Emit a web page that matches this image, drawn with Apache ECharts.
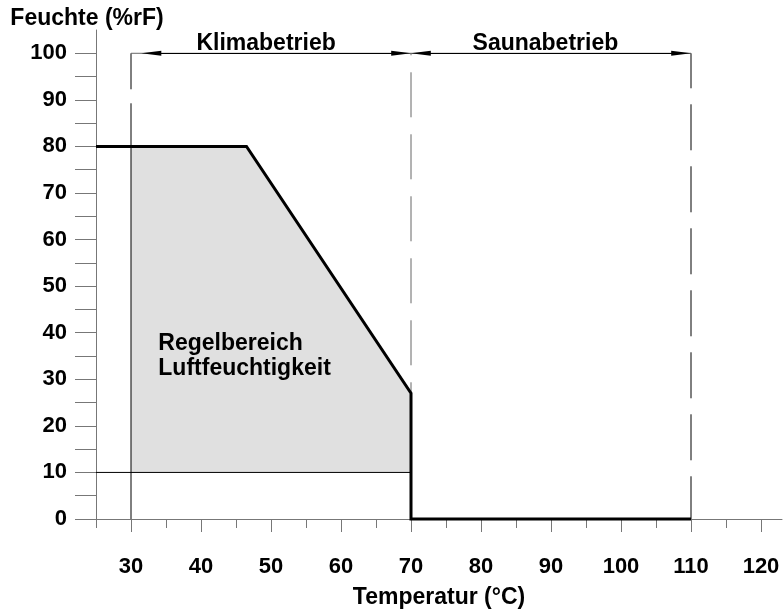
<!DOCTYPE html>
<html>
<head>
<meta charset="utf-8">
<script src="https://cdn.jsdelivr.net/npm/echarts@6/dist/echarts.min.js"></script>
<style>
  html, body { margin: 0; padding: 0; background: #fff; }
  #chart { width: 783px; height: 611px; }
</style>
</head>
<body>
<div id="chart"></div>
<script>
// Achsen
const xMajor = [30, 40, 50, 60, 70, 80, 90, 100, 110, 120];
const xMinor = [25, 35, 45, 55, 65, 75, 85, 95, 105, 115];
const yLabels = [0, 10, 20, 30, 40, 50, 60, 70, 80, 90, 100];
const yTicks = [0, 5, 10, 15, 20, 25, 30, 35, 40, 45, 50, 55, 60, 65, 70, 75, 80, 85, 90, 95, 100];

// Grenzkurve Feuchte
const limitCurve = [[25, 80], [46.5, 80], [70, 27], [70, 0], [110, 0]];
// Regelbereich (graue Fläche)
const controlArea = [[30, 10], [30, 80], [46.5, 80], [70, 27], [70, 10]];
// Hilfslinien
const lowerLimit = [[25, 10], [70, 10]];
const startLine = [[30, 100], [30, 0]];
const splitLine = [[70, 100], [70, 27]];
const endLine = [[110, 100], [110, 0]];
const rangeLine = [[30, 100], [110, 100]];
// Pfeile der Betriebsbereiche
const klimaArrow = [[32.9, 100], [68.6, 100]];
const saunaArrow = [[71.4, 100], [108.6, 100]];
// Beschriftungen
const zoneLabels = [['Klimabetrieb', 49.3, 100], ['Saunabetrieb', 89.2, 100]];
const areaLabel = ['Regelbereich\nLuftfeuchtigkeit', 33.9, 34.9];

const font = 'Liberation Sans, Arial, sans-serif';
const chart = echarts.init(document.getElementById('chart'));

function thinLine(data, color, type, offset) {
  return {
    type: 'line',
    data: data,
    symbol: 'none',
    clip: false,
    silent: true,
    lineStyle: { color: color, width: 1, type: type || 'solid', dashOffset: offset || 0 }
  };
}

// Text über die Achsen positionieren
function textSeries(items, align, dy) {
  return {
    type: 'custom',
    silent: true,
    data: items.map(function (d) { return [d[1], d[2]]; }),
    renderItem: function (params, api) {
      const pt = api.coord([api.value(0), api.value(1)]);
      return {
        type: 'text',
        x: pt[0],
        y: pt[1] + dy,
        style: {
          text: items[params.dataIndex][0],
          fill: '#000',
          font: 'bold 23px "Liberation Sans", Arial, sans-serif',
          lineHeight: 25,
          align: align,
          verticalAlign: 'middle',
          textAlign: align,
          textVerticalAlign: 'middle'
        }
      };
    },
    z: 10
  };
}

const option = {
  animation: false,
  grid: { left: 96, right: 1, top: 30, bottom: 92, outerBoundsMode: 'none', containLabel: false },
  xAxis: [
    {
      type: 'value',
      min: 25,
      max: 123,
      name: 'Temperatur (°C)',
      nameLocation: 'middle',
      nameGap: 67,
      nameTextStyle: { fontFamily: font, fontSize: 23, fontWeight: 'bold', color: '#000' },
      axisLine: { show: true, lineStyle: { color: '#777', width: 1 } },
      axisTick: { show: true, inside: false, length: 13, customValues: xMajor, lineStyle: { color: '#777' } },
      axisLabel: { customValues: xMajor, margin: 37, fontFamily: font, fontSize: 22, fontWeight: 'bold', color: '#000' },
      splitLine: { show: false }
    },
    {
      type: 'value',
      min: 25,
      max: 123,
      position: 'bottom',
      axisLine: { show: false },
      axisTick: { show: true, length: 9, customValues: xMinor, lineStyle: { color: '#777' } },
      axisLabel: { show: false },
      splitLine: { show: false }
    }
  ],
  yAxis: {
    type: 'value',
    min: 0,
    max: 105,
    name: 'Feuchte (%rF)',
    nameLocation: 'end',
    nameGap: 0,
    nameTextStyle: { fontFamily: font, fontSize: 23, fontWeight: 'bold', color: '#000', padding: [0, 18, 0, 0] },
    axisLine: { show: true, lineStyle: { color: '#777', width: 1 } },
    axisTick: { show: true, length: 21, customValues: yTicks, lineStyle: { color: '#777' } },
    axisLabel: { customValues: yLabels, margin: 29, fontFamily: font, fontSize: 22, fontWeight: 'bold', color: '#000' },
    splitLine: { show: false }
  },
  series: [
    {
      type: 'custom',
      silent: true,
      data: [0],
      renderItem: function (params, api) {
        return {
          type: 'polygon',
          shape: { points: controlArea.map(function (p) { return api.coord(p); }) },
          style: { fill: '#e0e0e0' }
        };
      },
      z: 1
    },
    thinLine(lowerLimit, '#000'),
    thinLine(startLine, '#000', [36, 14, 600, 0]),
    thinLine(splitLine, '#666', [45, 17], 43),
    thinLine(endLine, '#000', [46, 16], 11),
    thinLine(rangeLine, '#666'),
    {
      type: 'line',
      data: [],
      silent: true,
      markLine: {
        silent: true,
        animation: false,
        symbol: ['triangle', 'triangle'],
        symbolSize: [5, 20],
        label: { show: false },
        lineStyle: { color: '#000', width: 1, type: 'solid' },
        data: [
          [{ coord: klimaArrow[0] }, { coord: klimaArrow[1] }],
          [{ coord: saunaArrow[0] }, { coord: saunaArrow[1] }]
        ]
      }
    },
    {
      type: 'line',
      data: limitCurve,
      symbol: 'none',
      clip: false,
      silent: true,
      lineStyle: { color: '#000', width: 3, join: 'miter' },
      z: 5
    },
    textSeries(zoneLabels, 'center', -10),
    textSeries([areaLabel], 'left', 0)
  ]
};

chart.setOption(option);
</script>
</body>
</html>
